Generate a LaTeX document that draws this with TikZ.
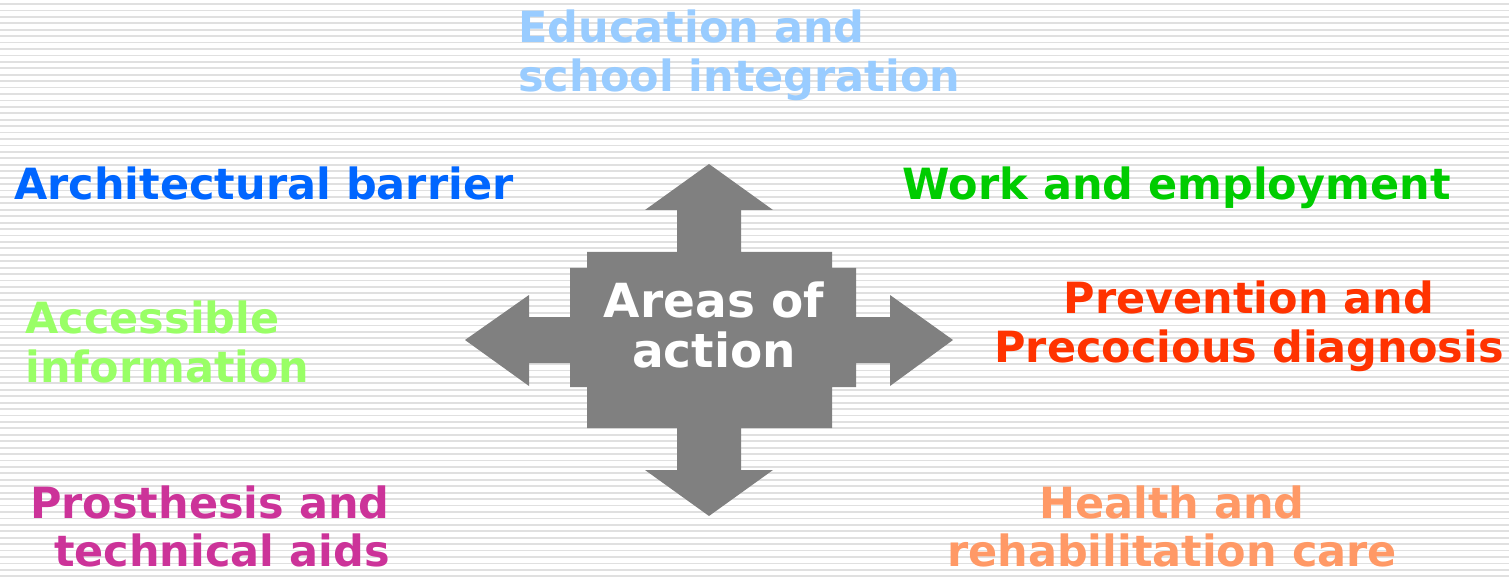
\documentclass[tikz,border=0pt]{standalone}
\usepackage{fontspec}
\setmainfont{DejaVu Sans}
\definecolor{bgline}{HTML}{E0E0E0}
\definecolor{shapegray}{HTML}{808080}
\definecolor{cEdu}{HTML}{99CCFF}
\definecolor{cArch}{HTML}{0066FF}
\definecolor{cWork}{HTML}{00CC00}
\definecolor{cAcc}{HTML}{99FF66}
\definecolor{cPrev}{HTML}{FF3300}
\definecolor{cPros}{HTML}{CC3399}
\definecolor{cHealth}{HTML}{FF9966}
\tikzset{
  lbl/.style={inner sep=0pt, font=\bfseries\fontsize{21.5}{24.5}\selectfont},
  lblb/.style={inner sep=0pt, font=\bfseries\fontsize{21.5}{24}\selectfont},
  centertext/.style={inner sep=0pt, text=white, align=center, font=\bfseries\fontsize{23.5}{25}\selectfont},
  crossshape/.style={fill=shapegray, draw=none}
}
\begin{document}
\begin{tikzpicture}[x=0.5pt,y=-0.5pt]
\useasboundingbox (0,0) rectangle (1509,577);
\fill[white] (0,0) rectangle (1509,577);
% striped background
\foreach \i in {0,...,89}{
  \draw[bgline, line width=0.9pt] (0,{4+6.43*\i}) -- (1509,{4+6.43*\i});
}
% central four-way arrow
\path[crossshape]
 (709,164) -- (773,210) -- (741,210) -- (741,252) -- (832,252) -- (832,268)
 -- (856,268) -- (856,317) -- (890,317) -- (890,295) -- (953,340) -- (890,386)
 -- (890,363) -- (856,363) -- (856,387) -- (832,387) -- (832,428) -- (741,428)
 -- (741,470) -- (773,470) -- (709,516) -- (645,470) -- (677,470) -- (677,428)
 -- (587,428) -- (587,387) -- (570,387) -- (570,363) -- (529,363) -- (529,386)
 -- (465,340) -- (529,295) -- (529,317) -- (570,317) -- (570,268) -- (587,268)
 -- (587,252) -- (677,252) -- (677,210) -- (645,210) -- cycle;
\node[centertext, anchor=base] (center) at (714,367) {Areas of\\action};
% labels (base anchor = baseline of the last line)
\node[lbl, text=cEdu, align=left, anchor=base west] (edu) at (518,92) {Education and\\school integration};
\node[lbl, text=cArch, anchor=base west] (arch) at (14,200) {Architectural barrier};
\node[lbl, text=cWork, anchor=base east] (work) at (1451,200) {Work and employment};
\node[lbl, text=cAcc, align=left, anchor=base west] (acc) at (25,382) {Accessible\\information};
\node[lbl, text=cPrev, align=center, anchor=base] (prev) at (1249,362) {Prevention and\\Precocious diagnosis};
\node[lblb, text=cPros, align=right, anchor=base east] (pros) at (390,566) {Prosthesis and\\technical aids};
\node[lblb, text=cHealth, align=center, anchor=base] (health) at (1172,566) {Health and\\rehabilitation care};
\end{tikzpicture}
\end{document}
